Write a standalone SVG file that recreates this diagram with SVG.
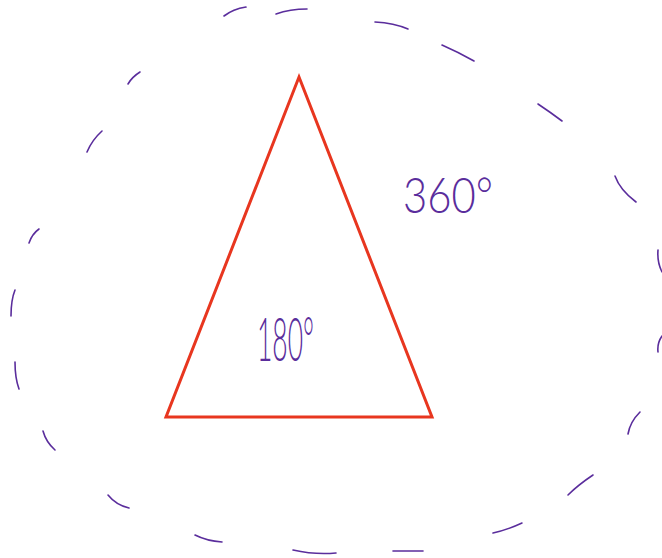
<svg xmlns="http://www.w3.org/2000/svg" width="662" height="558" viewBox="0 0 662 558">
<style>
.d{fill:none;stroke:#5a2d9c;stroke-width:1.6;stroke-linecap:round}
.t{fill:none;stroke:#e8361f;stroke-width:3;stroke-linejoin:miter}
.lbl{fill:#5a2d9c;font-family:"Lato","Liberation Sans",Arial,sans-serif;font-weight:300}
</style>
<rect width="662" height="558" fill="#ffffff"/>
<g id="circle360">
<path class="d" d="M224,16 Q233,9 246,7"/>
<path class="d" d="M276,14 Q290,9 307,9"/>
<path class="d" d="M375,22 Q394,23 408,29"/>
<path class="d" d="M442,45 Q458,52 474,61"/>
<path class="d" d="M538,104 Q550,112 562,121"/>
<path class="d" d="M615,176 Q620,190 636,202"/>
<path class="d" d="M658,250 Q657,262 662,272"/>
<path class="d" d="M662,336 Q657,343 658,352"/>
<path class="d" d="M640,412 Q630,422 628,434"/>
<path class="d" d="M593,475 Q578,485 568,495"/>
<path class="d" d="M522,523 Q507,530 493,533"/>
<path class="d" d="M393,551 L423,551"/>
<path class="d" d="M293,550 Q315,555 336,553"/>
<path class="d" d="M195,535 Q207,541 222,542"/>
<path class="d" d="M108,495 Q116,505 129,508"/>
<path class="d" d="M43,431 Q46,442 55,450"/>
<path class="d" d="M15,362 Q15,378 19,389"/>
<path class="d" d="M11,316 Q11,300 15,290"/>
<path class="d" d="M29,243 Q32,234 39,229"/>
<path class="d" d="M87,152 Q92,140 102,131"/>
<path class="d" d="M128,84 Q132,77 140,72"/>
</g>
<g id="triangle">
<polygon class="t" points="299,77 432,417 166,417"/>
</g>
<g id="label360">
<text class="lbl" x="403" y="213" font-size="50" textLength="90" lengthAdjust="spacingAndGlyphs">360°</text>
</g>
<g id="label180">
<text class="lbl" x="257" y="361" font-size="62" textLength="57" lengthAdjust="spacingAndGlyphs">180°</text>
</g>
</svg>
